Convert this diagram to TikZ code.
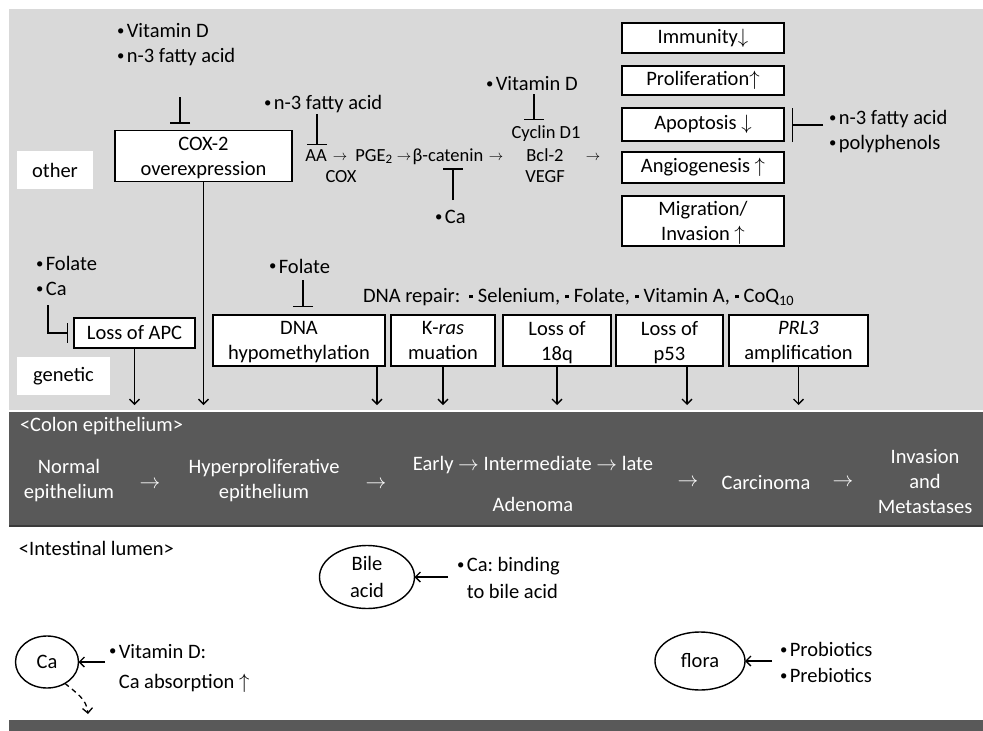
\documentclass[tikz,border=0pt]{standalone}
\usepackage{fontspec}
\usepackage{graphicx}
\setmainfont{Carlito}
\usetikzlibrary{arrows.meta,shapes.geometric}
\definecolor{grayL}{HTML}{D9D9D9}
\definecolor{grayD}{HTML}{595959}
\definecolor{grayE}{HTML}{3A3A3A}
\newcommand{\sqb}{\raisebox{0.2em}{\rule{3.6pt}{3.6pt}}}
\newcommand{\bul}{\raisebox{0.1em}{\scalebox{0.72}{•}}\hspace{2.5pt}}
\frenchspacing
\begin{document}
\begin{tikzpicture}[x=1pt,y=-1pt,
  every node/.style={inner sep=0pt, outer sep=0pt},
  txt/.style={font=\fontsize{20.5}{25}\selectfont, align=center},
  stxt/.style={font=\fontsize{18.5}{21}\selectfont, align=center, anchor=base},
  sarr/.style={font=\fontsize{15}{16}\selectfont, anchor=base},
  wtxt/.style={txt, text=white},
  box/.style={txt, draw=black, line width=1.5pt, fill=white},
  box2/.style={box, text depth=0pt},
  lab/.style={txt, fill=white},
  oval/.style={draw=black, ellipse, line width=1.4pt},
  arr/.style={-{Straight Barb[length=5pt,width=10pt]}, line width=1.3pt},
  inh/.style={-{Bar[width=#1]}, line width=1.4pt},
  inh/.default=20pt
]
\useasboundingbox (0,0) rectangle (983,731);
\fill[white] (0,0) rectangle (983,731);
\fill[grayL] (9,9) rectangle (983,410);
\fill[grayD] (9,412) rectangle (983,525);
\draw[grayE, line width=1.5pt] (9,526) -- (983,526);
\fill[grayD] (9,720) rectangle (983,731);
\coordinate (bandtop) at (0,405);

% ---------- other ----------
\node[lab, minimum width=76pt, minimum height=38pt] (oth) at (55,170) {other};
\node[txt, align=left, anchor=west] (vd1) at (117,45) {\bul Vitamin D\\\bul n-3 fatty acid};
\node[box2, minimum width=177pt, minimum height=51pt] (cox) at (203.5,156) {COX-2\\overexpression};
\coordinate (i1) at (180,97);
\draw[inh, shorten >=7pt] (i1) -- (i1 |- cox.north);
\draw[arr] (cox.south) -- (cox.south |- bandtop);

\node[txt, anchor=west] (n3b) at (264,104) {\bul n-3 fatty acid};
\node[stxt] (aa) at (316,161) {AA};
\node[sarr] (r1) at (340,160) {$\rightarrow$};
\node[stxt] (pge) at (374,161) {PGE\textsubscript{2}};
\node[sarr] (r2) at (404,160) {$\rightarrow$};
\node[stxt] (bcat) at (448,161) {β-catenin};
\node[sarr] (r3) at (496,160) {$\rightarrow$};
\node[stxt] (bcl) at (545,161) {Bcl-2};
\node[stxt] (cyc) at (546,138) {Cyclin D1};
\node[stxt] (vegf) at (545,182) {VEGF};
\node[sarr] (r4) at (593,160) {$\rightarrow$};
\node[stxt] (coxe) at (341,182) {COX};
\coordinate (i2) at (317,114);
\draw[inh, shorten >=4pt] (i2) -- (i2 |- aa.north);
\node[txt, anchor=west] (vd2) at (486,84) {\bul Vitamin D};
\coordinate (i3) at (534,94);
\draw[inh, shorten >=5pt] (i3) -- (i3 |- cyc.north);
\node[txt, anchor=west] (ca1) at (435,217) {\bul Ca};
\coordinate (i4) at (453,200);
\draw[inh, shorten >=4pt] (i4) -- (i4 |- bcat.south);

\node[box, minimum width=162pt, minimum height=30pt] (imm) at (703,38) {Immunity$\downarrow$};
\node[box, minimum width=162pt, minimum height=29pt] (pro) at (703,80.5) {Proliferation$\uparrow$};
\node[box, minimum width=162pt, minimum height=33pt] (apo) at (703,124.5) {Apoptosis $\downarrow$};
\node[box, minimum width=162pt, minimum height=31pt] (ang) at (703,167.5) {Angiogenesis $\uparrow$};
\node[box2, minimum width=162pt, minimum height=50pt] (mig) at (703,221) {Migration/\\Invasion $\uparrow$};
\node[txt, align=left, anchor=west] (n3c) at (829,132) {\bul n-3 fatty acid\\\bul polyphenols};
\coordinate (i5) at (823,125);
\draw[inh=34pt, shorten >=8pt] (i5) -- (apo.east |- i5);

% ---------- genetic ----------
\node[lab, minimum width=93pt, minimum height=38pt] (gen) at (63.5,376) {genetic};
\node[txt, align=left, anchor=west] (fol1) at (36,276) {\bul Folate\\\bul Ca};
\node[box, minimum width=121pt, minimum height=30pt] (apc) at (134.5,333) {Loss of APC};
\coordinate (i6) at (48,305);
\draw[inh, shorten >=6pt] (i6) |- (apc.west);
\draw[arr] (apc.south) -- (apc.south |- bandtop);

\node[txt, anchor=west] (fol2) at (269,266) {\bul Folate};
\node[box2, minimum width=172pt, minimum height=51pt] (hyp) at (299,340.5) {DNA\\hypomethylation};
\coordinate (i7) at (303,280);
\draw[inh, shorten >=8pt] (i7) -- (i7 |- hyp.north);
\node[box2, minimum width=104pt, minimum height=51pt] (kras) at (443,340.5) {K-\textit{ras}\\muation};
\node[box2, minimum width=108pt, minimum height=51pt] (q18) at (557,340.5) {Loss of\\18q};
\node[box2, minimum width=107pt, minimum height=51pt] (p53) at (669.5,340.5) {Loss of\\p53};
\node[box2, minimum width=139pt, minimum height=51pt] (prl) at (798.5,340.5) {\textit{PRL3}\\amplification};
\node[txt, anchor=west] (rep) at (363,297) {DNA repair:\hspace{9pt}\sqb\hspace{5pt}Selenium,\hspace{5pt}\sqb\hspace{5pt}Folate,\hspace{5pt}\sqb\hspace{5pt}Vitamin A,\hspace{5pt}\sqb\hspace{5pt}CoQ\textsubscript{10}};
\draw[arr] ([xshift=78pt]hyp.south) -- ([xshift=78pt]hyp.south |- bandtop);
\draw[arr] (kras.south) -- (kras.south |- bandtop);
\draw[arr] (q18.south) -- (q18.south |- bandtop);
\draw[arr] ([xshift=17.5pt]p53.south) -- ([xshift=17.5pt]p53.south |- bandtop);
\draw[arr] (prl.south) -- (prl.south |- bandtop);

% ---------- colon epithelium ----------
\node[wtxt, anchor=west] (colon) at (20,426) {<Colon epithelium>};
\node[wtxt] (norm) at (69,481) {Normal\\epithelium};
\node[wtxt] (a1) at (150,485) {$\rightarrow$};
\node[wtxt] (hyper) at (264,481) {Hyperproliferative\\epithelium};
\node[wtxt] (a2) at (376,485) {$\rightarrow$};
\node[wtxt] (early) at (533,465) {Early $\rightarrow$ Intermediate $\rightarrow$ late};
\node[wtxt] (aden) at (533,504) {Adenoma};
\node[wtxt] (a3) at (688,483) {$\rightarrow$};
\node[wtxt] (carc) at (766,483) {Carcinoma};
\node[wtxt] (a4) at (843,483) {$\rightarrow$};
\node[wtxt] (inv) at (925,482) {Invasion\\and\\Metastases};

% ---------- intestinal lumen ----------
\node[txt, anchor=west] (lumen) at (19,548) {<Intestinal lumen>};
\node[oval, minimum width=95pt, minimum height=63pt] (bile) at (367,577) {};
\node[txt, font=\fontsize{20.5}{27}\selectfont] (bilet) at (bile) {Bile\\acid};
\node[txt, align=left, anchor=west, font=\fontsize{20.5}{27}\selectfont] (cab) at (457,578) {\bul Ca: binding\\\phantom{\bul}to bile acid};
\draw[arr, shorten <=9pt] (cab.west |- bile) -- (bile.east);

\node[oval, minimum width=63pt, minimum height=52pt] (ca) at (47,662) {};
\node[txt] (cat) at (ca) {Ca};
\node[txt, align=left, anchor=west, font=\fontsize{20.5}{30}\selectfont] (vdc) at (109,668) {\bul Vitamin D:\\\phantom{\bul}Ca absorption $\uparrow$};
\draw[arr, shorten <=4pt] (vdc.west |- ca) -- (ca.east);
\coordinate (cad) at (88,714);
\draw[arr, dash pattern=on 5pt off 4pt] (ca.-50) to[out=-40,in=95] (cad);

\node[oval, minimum width=90pt, minimum height=58pt] (flo) at (700,661) {};
\node[txt] (flot) at (flo) {flora};
\node[txt, align=left, anchor=west, font=\fontsize{20.5}{26}\selectfont] (prob) at (780,662) {\bul Probiotics\\\bul Prebiotics};
\draw[arr, shorten <=8pt] (prob.west |- flo) -- (flo.east);
\end{tikzpicture}
\end{document}
